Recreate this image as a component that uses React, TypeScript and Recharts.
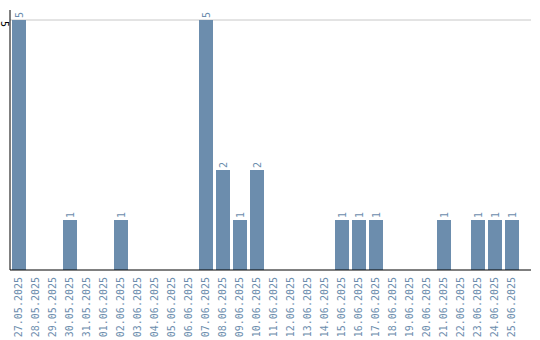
import React from "react";
import { BarChart, Bar, XAxis, YAxis, CartesianGrid, LabelList } from "recharts";

const dates = [
  "27.05.2025", "28.05.2025", "29.05.2025", "30.05.2025", "31.05.2025",
  "01.06.2025", "02.06.2025", "03.06.2025", "04.06.2025", "05.06.2025",
  "06.06.2025", "07.06.2025", "08.06.2025", "09.06.2025", "10.06.2025",
  "11.06.2025", "12.06.2025", "13.06.2025", "14.06.2025", "15.06.2025",
  "16.06.2025", "17.06.2025", "18.06.2025", "19.06.2025", "20.06.2025",
  "21.06.2025", "22.06.2025", "23.06.2025", "24.06.2025", "25.06.2025",
];

const counts = [
  5, 0, 0, 1, 0,
  0, 1, 0, 0, 0,
  0, 5, 2, 1, 2,
  0, 0, 0, 0, 1,
  1, 1, 0, 0, 0,
  1, 0, 1, 1, 1,
];

const yTicks = [5];

const data = dates.map((d, i) => ({ date: d, count: counts[i] }));

const BLUE = "#6c8dad";
const FONT = "'DejaVu Sans Mono', monospace";

const XTick = (props: any) => {
  const { x, y, payload } = props;
  return (
    <text
      x={x}
      y={y - 1}
      transform={`rotate(-90 ${x} ${y - 1})`}
      textAnchor="end"
      dominantBaseline="central"
      fill={BLUE}
      fontSize={10}
      fontFamily={FONT}
    >
      {payload.value}
    </text>
  );
};

const YTick = (props: any) => {
  const { y, payload } = props;
  return (
    <text
      x={4.5}
      y={y + 1}
      transform={`rotate(90 4.5 ${y + 1})`}
      textAnchor="start"
      dominantBaseline="central"
      fill="#000"
      fontSize={10}
      fontFamily={FONT}
    >
      {payload.value}
    </text>
  );
};

const BarLabel = (props: any) => {
  const { x, y, width, value } = props;
  if (!value) return null;
  const cx = x + width / 2;
  const ty = y - 2;
  return (
    <text
      x={cx}
      y={ty}
      transform={`rotate(-90 ${cx} ${ty})`}
      textAnchor="start"
      dominantBaseline="central"
      fill={BLUE}
      fontSize={10}
      fontFamily={FONT}
    >
      {value}
    </text>
  );
};

export default function App() {
  return (
    <div style={{ position: "absolute", left: 0, top: 0, background: "#fff" }}>
      <BarChart
        width={540}
        height={340}
        data={data}
        margin={{ top: 10, right: 9, left: 0, bottom: 0 }}
        barSize={14}
      >
        <CartesianGrid
          horizontal
          vertical={false}
          horizontalValues={yTicks}
          stroke="#c8c8c8"
        />
        <XAxis
          dataKey="date"
          interval={0}
          height={70}
          tickLine={false}
          axisLine={{ stroke: "#000" }}
          tick={<XTick />}
          padding={{ left: 0, right: 11 }}
        />
        <YAxis
          width={10}
          domain={[0, 5.2]}
          ticks={yTicks}
          tickLine={false}
          axisLine={{ stroke: "#000" }}
          tick={<YTick />}
        />
        <Bar dataKey="count" fill={BLUE} isAnimationActive={false}>
          <LabelList dataKey="count" content={<BarLabel />} />
        </Bar>
      </BarChart>
    </div>
  );
}
